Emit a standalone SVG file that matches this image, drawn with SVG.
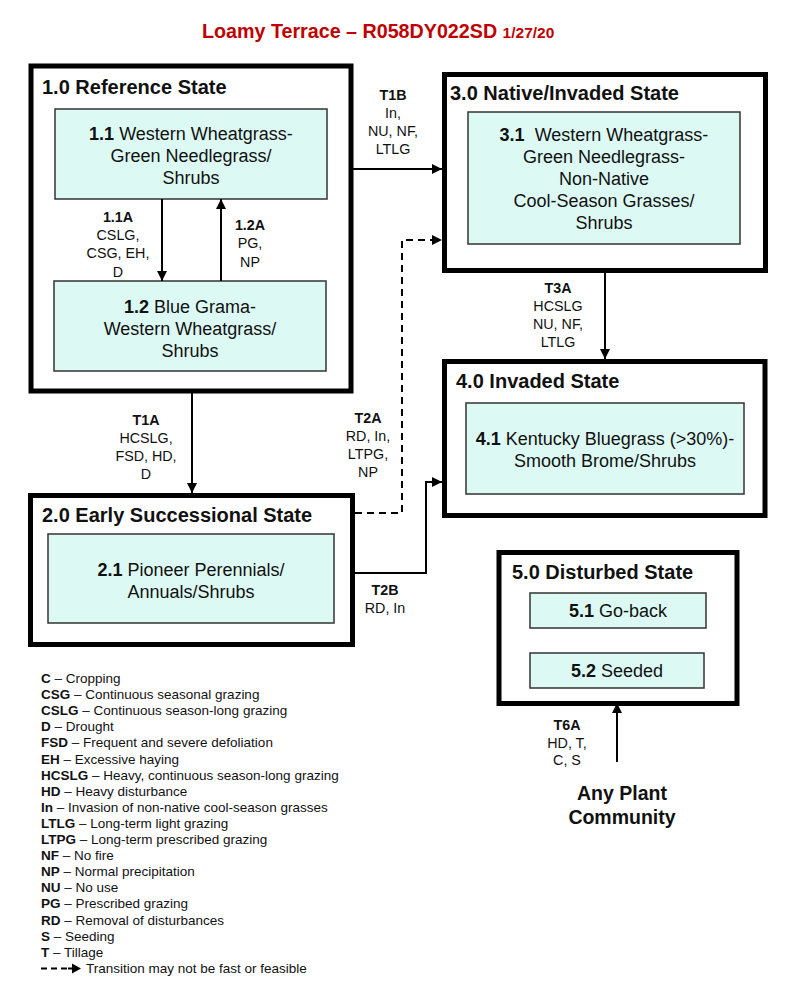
<svg xmlns="http://www.w3.org/2000/svg" width="800" height="985" viewBox="0 0 800 985">
<style>
text{font-family:"Liberation Sans",Arial,sans-serif;fill:#111}
.title{font-size:19.7px;font-weight:bold;fill:#c00000}
.date{font-size:15.5px;font-weight:bold;fill:#c00000}
.state{fill:#fff;stroke:#000;stroke-width:5}
.comm{fill:#dcfaf3;stroke:#333;stroke-width:1.5}
.sh{font-size:20px;font-weight:bold}
.ct{font-size:18px;text-anchor:middle}
.tl{font-size:14.3px;text-anchor:middle}
.b{font-weight:bold}
.lg{font-size:13.5px}
.con{fill:none;stroke:#000;stroke-width:2}
.dash{stroke-dasharray:7,5}
</style>
<defs>
<marker id="ah" markerUnits="userSpaceOnUse" markerWidth="11" markerHeight="10" refX="10" refY="5" orient="auto">
<path d="M0,0 L10,5 L0,10 Z" fill="#000"/>
</marker>
</defs>
<rect width="800" height="985" fill="#fff"/>
<text x="202" y="38" class="title">Loamy Terrace – R058DY022SD <tspan class="date">1/27/20</tspan></text>

<g id="state1">
<rect class="state" x="31" y="66" width="320" height="325"/>
<text x="42" y="94" class="sh">1.0 Reference State</text>
</g>
<g id="comm11">
<rect class="comm" x="55" y="109" width="272" height="90"/>
<text class="ct" x="191" y="140"><tspan class="b">1.1</tspan> Western Wheatgrass-</text>
<text class="ct" x="191" y="162">Green Needlegrass/</text>
<text class="ct" x="191" y="184">Shrubs</text>
</g>
<g id="comm12">
<rect class="comm" x="54" y="281" width="272" height="90"/>
<text class="ct" x="190" y="313"><tspan class="b">1.2</tspan> Blue Grama-</text>
<text class="ct" x="190" y="335">Western Wheatgrass/</text>
<text class="ct" x="190" y="357">Shrubs</text>
</g>

<g id="state2">
<rect class="state" x="30.5" y="495.5" width="322" height="149"/>
<text x="42" y="522" class="sh">2.0 Early Successional State</text>
</g>
<g id="comm21">
<rect class="comm" x="48" y="534" width="286" height="89"/>
<text class="ct" x="191" y="576"><tspan class="b">2.1</tspan> Pioneer Perennials/</text>
<text class="ct" x="191" y="598">Annuals/Shrubs</text>
</g>

<g id="state3">
<rect class="state" x="444.5" y="74.5" width="321" height="196"/>
<text x="450" y="100" class="sh">3.0 Native/Invaded State</text>
</g>
<g id="comm31">
<rect class="comm" x="468" y="112" width="272" height="132"/>
<text class="ct" x="604" y="141"><tspan class="b">3.1</tspan>&#160; Western Wheatgrass-</text>
<text class="ct" x="604" y="163">Green Needlegrass-</text>
<text class="ct" x="604" y="185">Non-Native</text>
<text class="ct" x="604" y="207">Cool-Season Grasses/</text>
<text class="ct" x="604" y="229">Shrubs</text>
</g>

<g id="state4">
<rect class="state" x="444.5" y="361.5" width="320.5" height="154"/>
<text x="456" y="388" class="sh">4.0 Invaded State</text>
</g>
<g id="comm41">
<rect class="comm" x="466" y="403" width="278" height="91"/>
<text class="ct" x="605" y="445"><tspan class="b">4.1</tspan> Kentucky Bluegrass (&gt;30%)-</text>
<text class="ct" x="605" y="467">Smooth Brome/Shrubs</text>
</g>

<g id="state5">
<rect class="state" x="499" y="552.5" width="238" height="151"/>
<text x="512" y="579" class="sh">5.0 Disturbed State</text>
</g>
<g id="comm51">
<rect class="comm" x="530" y="593" width="176" height="35"/>
<text class="ct" x="618" y="617"><tspan class="b">5.1</tspan> Go-back</text>
</g>
<g id="comm52">
<rect class="comm" x="530" y="653" width="174" height="35"/>
<text class="ct" x="617" y="677"><tspan class="b">5.2</tspan> Seeded</text>
</g>

<g id="anyplant">
<text x="622" y="800" style="font-size:19.5px;font-weight:bold;text-anchor:middle">Any Plant</text>
<text x="622" y="824" style="font-size:19.5px;font-weight:bold;text-anchor:middle">Community</text>
</g>

<g id="connectors">
<path class="con" d="M162,199 V281" marker-end="url(#ah)"/>
<path class="con" d="M221,281 V199" marker-end="url(#ah)"/>
<path class="con" d="M353,169 H442" marker-end="url(#ah)"/>
<path class="con dash" d="M355,513 H402 V240 H442" marker-end="url(#ah)"/>
<path class="con" d="M355,573 H426 V482 H442" marker-end="url(#ah)"/>
<path class="con" d="M605,272 V359" marker-end="url(#ah)"/>
<path class="con" d="M192,391 V493" marker-end="url(#ah)"/>
<path class="con" d="M617,762 V703" marker-end="url(#ah)"/>
</g>

<g id="labels">
<text class="tl" x="118" y="222"><tspan class="b">1.1A</tspan></text>
<text class="tl" x="118" y="240">CSLG,</text>
<text class="tl" x="118" y="258">CSG, EH,</text>
<text class="tl" x="118" y="277">D</text>
<text class="tl" x="250" y="230"><tspan class="b">1.2A</tspan></text>
<text class="tl" x="250" y="248">PG,</text>
<text class="tl" x="250" y="267">NP</text>
<text class="tl" x="393" y="100"><tspan class="b">T1B</tspan></text>
<text class="tl" x="393" y="118">In,</text>
<text class="tl" x="393" y="136">NU, NF,</text>
<text class="tl" x="393" y="154">LTLG</text>
<text class="tl" x="558" y="293"><tspan class="b">T3A</tspan></text>
<text class="tl" x="558" y="311">HCSLG</text>
<text class="tl" x="558" y="329">NU, NF,</text>
<text class="tl" x="558" y="347">LTLG</text>
<text class="tl" x="146" y="425"><tspan class="b">T1A</tspan></text>
<text class="tl" x="146" y="443">HCSLG,</text>
<text class="tl" x="146" y="461">FSD, HD,</text>
<text class="tl" x="146" y="479">D</text>
<text class="tl" x="368" y="423"><tspan class="b">T2A</tspan></text>
<text class="tl" x="368" y="441">RD, In,</text>
<text class="tl" x="368" y="459">LTPG,</text>
<text class="tl" x="368" y="477">NP</text>
<text class="tl" x="385" y="595"><tspan class="b">T2B</tspan></text>
<text class="tl" x="385" y="613">RD, In</text>
<text class="tl" x="567" y="730"><tspan class="b">T6A</tspan></text>
<text class="tl" x="567" y="748">HD, T,</text>
<text class="tl" x="567" y="765">C, S</text>
</g>

<g id="legend" class="lg">
<text x="41" y="683" class="lg"><tspan class="b">C</tspan> – Cropping</text>
<text x="41" y="699" class="lg"><tspan class="b">CSG</tspan> – Continuous seasonal grazing</text>
<text x="41" y="715" class="lg"><tspan class="b">CSLG</tspan> – Continuous season-long grazing</text>
<text x="41" y="731" class="lg"><tspan class="b">D</tspan> – Drought</text>
<text x="41" y="747" class="lg"><tspan class="b">FSD</tspan> – Frequent and severe defoliation</text>
<text x="41" y="764" class="lg"><tspan class="b">EH</tspan> – Excessive haying</text>
<text x="41" y="780" class="lg"><tspan class="b">HCSLG</tspan> – Heavy, continuous season-long grazing</text>
<text x="41" y="796" class="lg"><tspan class="b">HD</tspan> – Heavy disturbance</text>
<text x="41" y="812" class="lg"><tspan class="b">In</tspan> – Invasion of non-native cool-season grasses</text>
<text x="41" y="828" class="lg"><tspan class="b">LTLG</tspan> – Long-term light grazing</text>
<text x="41" y="844" class="lg"><tspan class="b">LTPG</tspan> – Long-term prescribed grazing</text>
<text x="41" y="860" class="lg"><tspan class="b">NF</tspan> – No fire</text>
<text x="41" y="876" class="lg"><tspan class="b">NP</tspan> – Normal precipitation</text>
<text x="41" y="892" class="lg"><tspan class="b">NU</tspan> – No use</text>
<text x="41" y="908" class="lg"><tspan class="b">PG</tspan> – Prescribed grazing</text>
<text x="41" y="925" class="lg"><tspan class="b">RD</tspan> – Removal of disturbances</text>
<text x="41" y="941" class="lg"><tspan class="b">S</tspan> – Seeding</text>
<text x="41" y="957" class="lg"><tspan class="b">T</tspan> – Tillage</text>
<path d="M41,968.5 H68" stroke="#000" stroke-width="2" stroke-dasharray="6,4" fill="none"/>
<path d="M68,968.5 H72" stroke="#000" stroke-width="2" fill="none"/>
<path d="M72,963.5 L81,968.5 L72,973.5 Z" fill="#000"/>
<text x="86" y="973" class="lg">Transition may not be fast or feasible</text>
</g>
</svg>
